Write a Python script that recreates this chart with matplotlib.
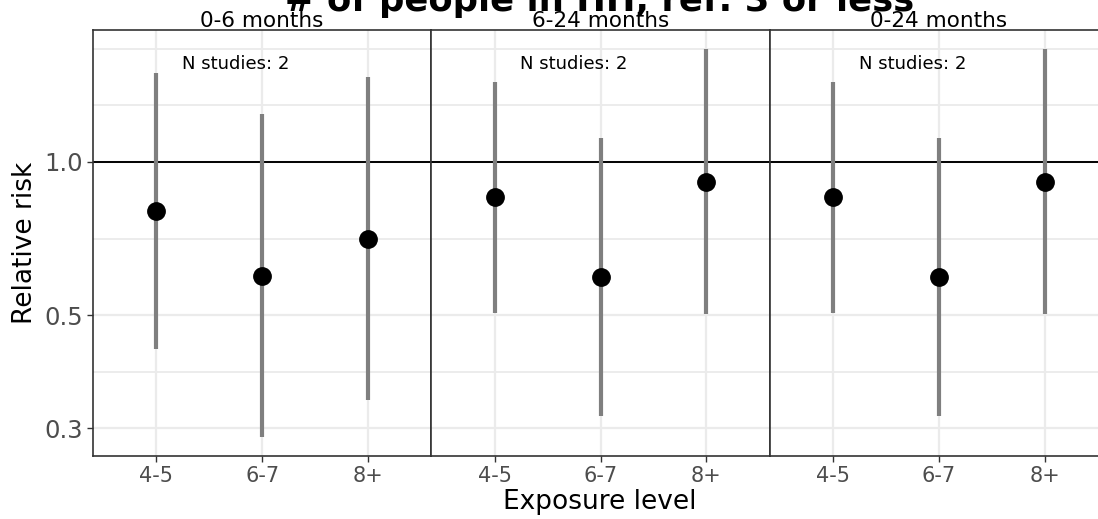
import numpy as np
import matplotlib
matplotlib.use("Agg")
import matplotlib.pyplot as plt

# Data (relative risk, log scale)
panels = ["0-6 months", "6-24 months", "0-24 months"]
levels = ["4-5", "6-7", "8+"]
est = [[0.801, 0.598, 0.706],
       [0.855, 0.595, 0.914],
       [0.855, 0.595, 0.914]]
lo = [[0.429, 0.288, 0.341],
      [0.506, 0.317, 0.502],
      [0.506, 0.317, 0.502]]
hi = [[1.497, 1.242, 1.467],
      [1.438, 1.116, 1.664],
      [1.438, 1.116, 1.664]]
n_studies = [2, 2, 2]

y_breaks = [0.3, 0.5, 1.0]
y_minor = [0.387, 0.707, 1.291, 1.667]

W, H = 1098, 519
fig = plt.figure(figsize=(W / 100, H / 100), dpi=100)

left, right, top, bottom = 93, 1108, 30, 456
pw = (right - left) / 3

x = np.arange(1, len(levels) + 1)
for i, p in enumerate(panels):
    ax = fig.add_axes([(left + i * pw) / W, 1 - bottom / H, pw / W, (bottom - top) / H])
    ax.set_yscale("log")
    ax.set_xlim(0.4, 3.6)
    ax.set_ylim(0.2644, 1.816)

    # grid
    for v in y_breaks:
        ax.axhline(v, color="#EBEBEB", lw=1.6, zorder=0)
    for v in y_minor:
        ax.axhline(v, color="#EBEBEB", lw=1.3, zorder=0)
    for xv in x:
        ax.axvline(xv, color="#EBEBEB", lw=1.6, zorder=0)

    ax.axhline(1.0, color="black", lw=1.4, zorder=1)
    ax.vlines(x, lo[i], hi[i], color="#7F7F7F", lw=3.0, zorder=2)
    ax.plot(x, est[i], "o", color="black", markersize=12.5, zorder=3)

    ax.text(1.75, 1.56, f"N studies: {n_studies[i]}", ha="center", va="center",
            fontsize=13, color="black")

    ax.set_xticks(x)
    ax.set_xticklabels(levels, fontsize=15, color="#4D4D4D")
    ax.yaxis.set_minor_locator(matplotlib.ticker.NullLocator())
    if i == 0:
        ax.set_yticks(y_breaks)
        ax.set_yticklabels([f"{v:.1f}" for v in y_breaks], fontsize=17.5, color="#4D4D4D")
        ax.set_ylabel("Relative risk", fontsize=19, labelpad=5)
    else:
        ax.set_yticks([])
    ax.tick_params(axis="both", length=4, width=1, color="#333333", pad=3)
    for s in ax.spines.values():
        s.set_color("#333333")
        s.set_linewidth(1.2)

    # facet strip label
    fig.text((left + (i + 0.5) * pw) / W, 1 - 27 / H, p, ha="center", va="baseline",
             fontsize=15.5)

fig.text(600 / W, 1 - 502 / H, "Exposure level", ha="center", va="center", fontsize=19)
fig.text(600 / W, 1 - 11 / H, "# of people in HH, ref: 3 or less", ha="center",
         va="baseline", fontsize=25.5, fontweight="bold")

fig.savefig("out.png", dpi=100)
